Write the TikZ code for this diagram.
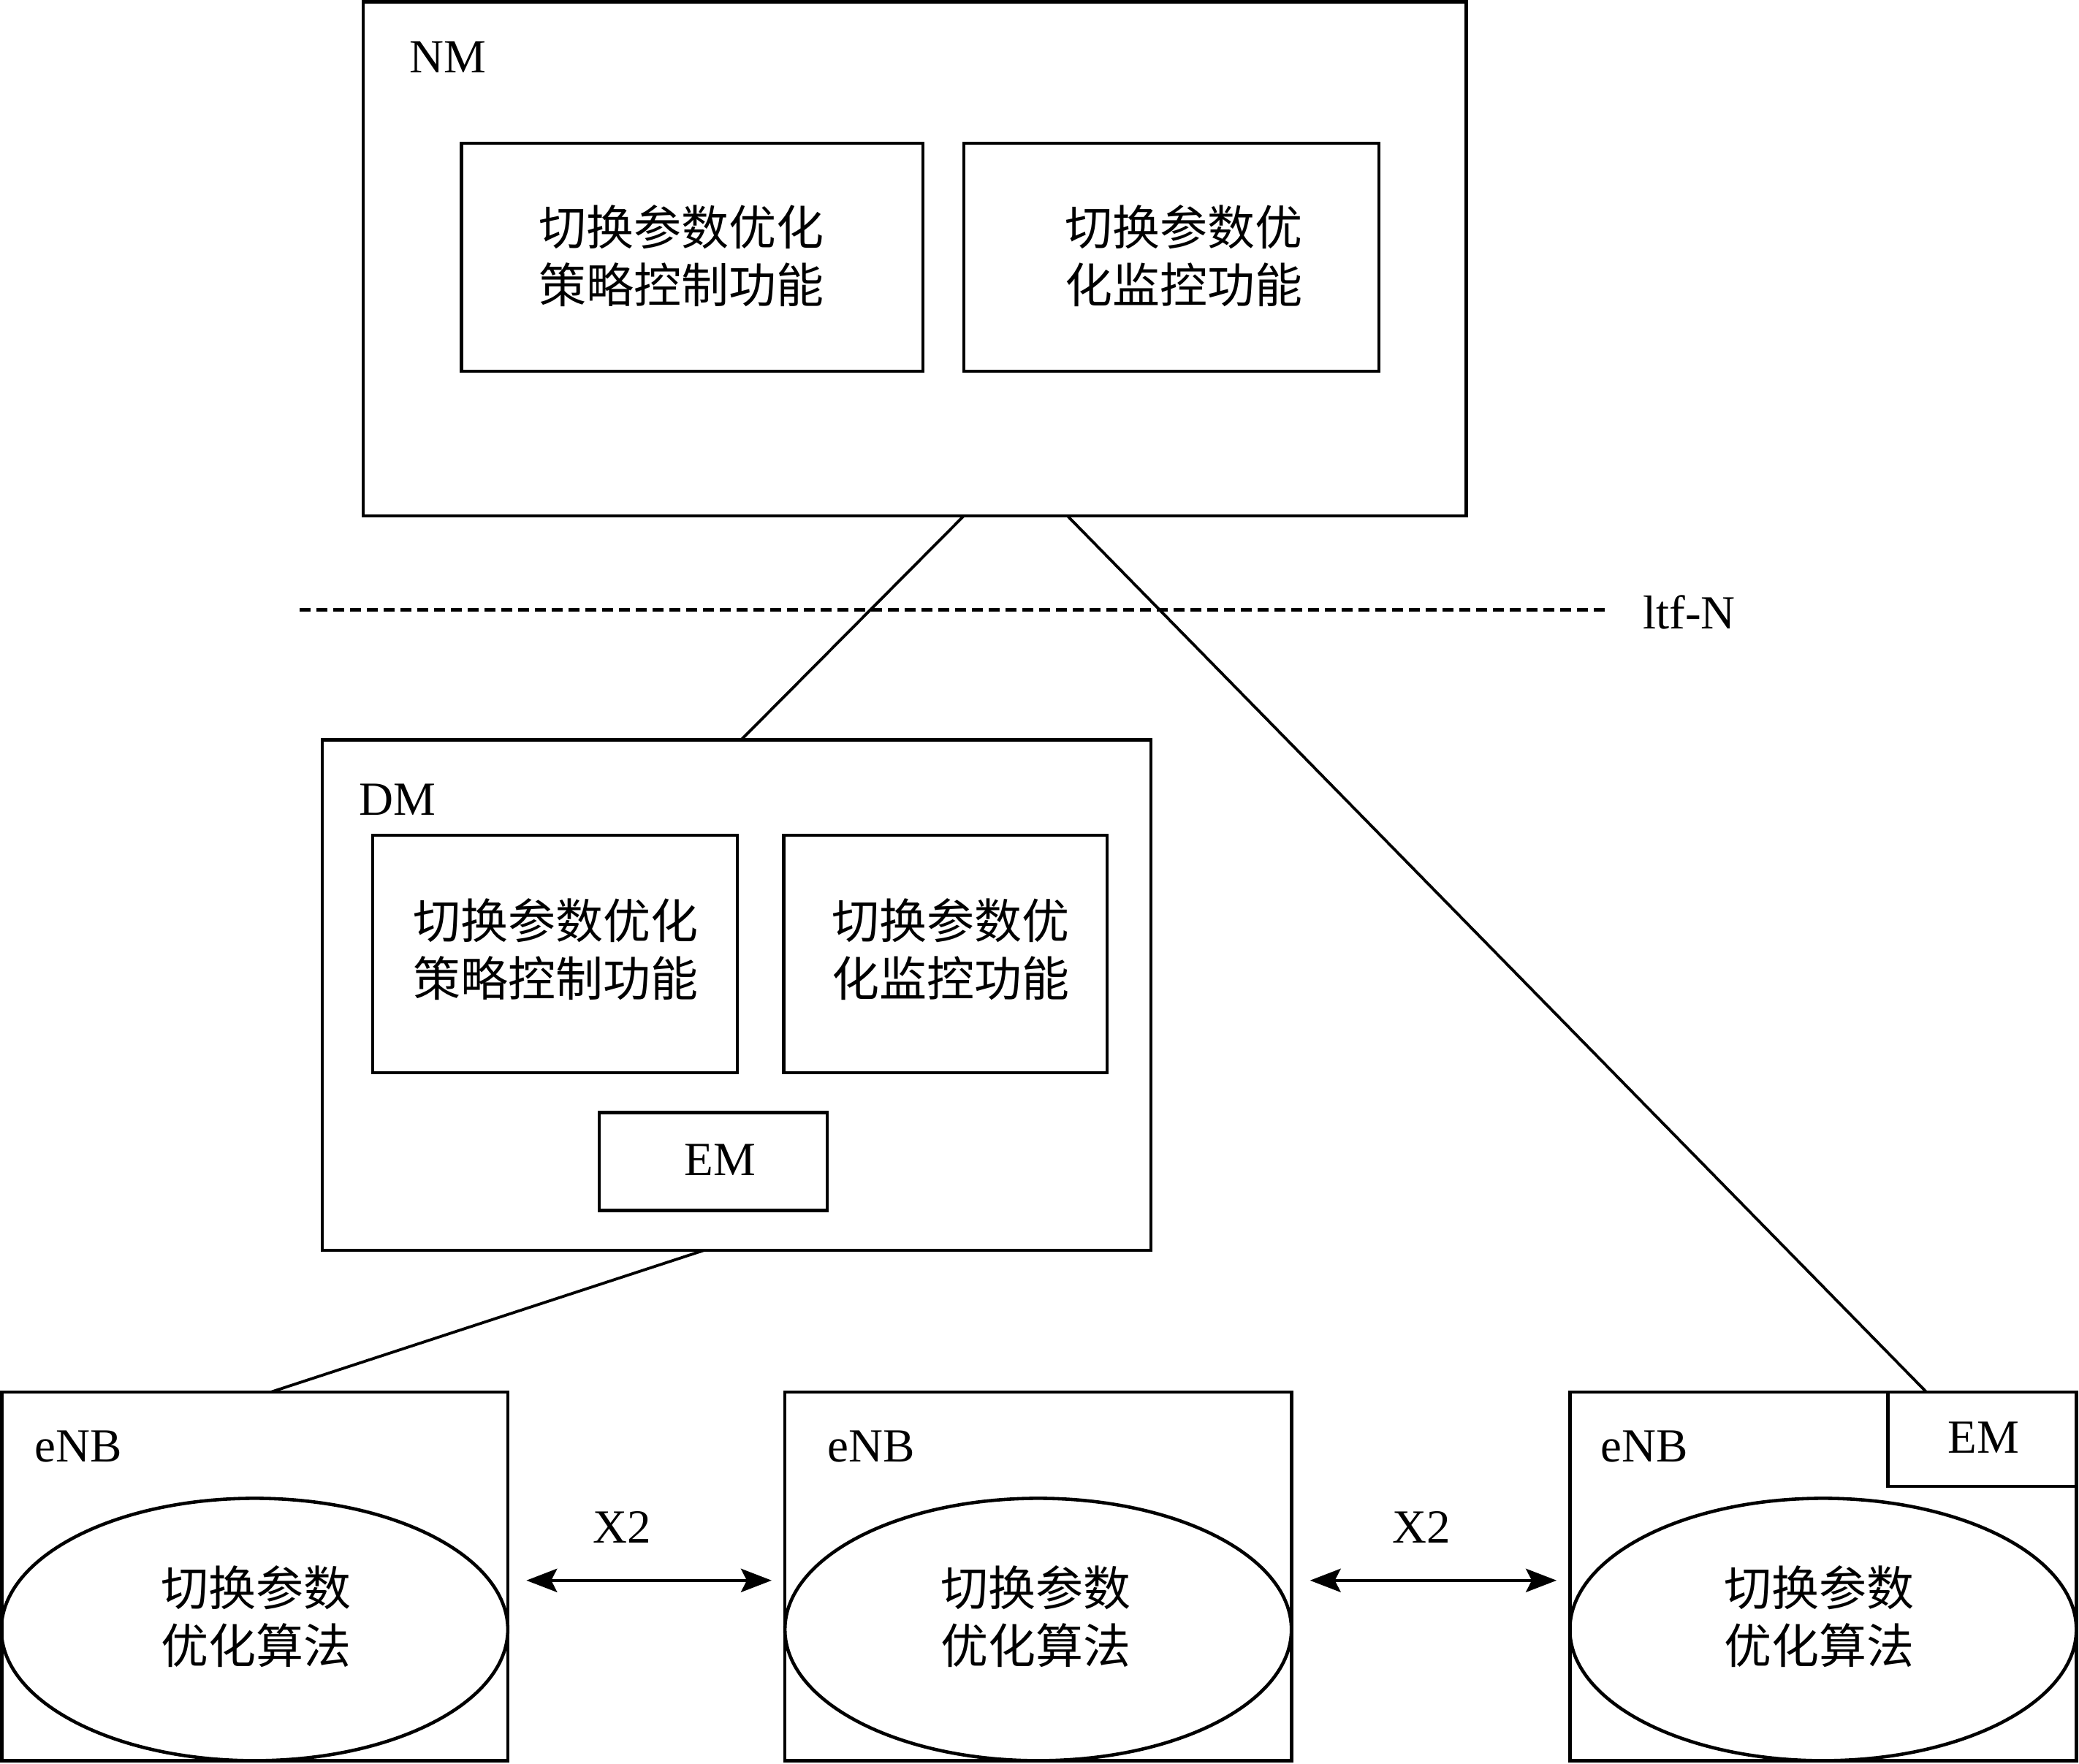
\documentclass[tikz,border=0pt]{standalone}
\usepackage{fontspec}
\setmainfont{Liberation Serif}
\newfontfamily\cjk{Noto Sans CJK SC}
\usetikzlibrary{arrows.meta,shapes.geometric,fit,calc}
\begin{document}
\begin{tikzpicture}[x=0.018144cm,y=-0.018144cm,
  box/.style={draw, line width=1.3pt, inner sep=0pt, outer sep=0pt},
  oval/.style={draw, ellipse, line width=1.3pt, inner sep=0pt, outer sep=0pt,
    minimum width=6.93cm, minimum height=3.59cm},
  lbl/.style={font=\fontsize{18.5pt}{22pt}\selectfont, inner sep=0pt},
  cjktext/.style={font=\cjk\fontsize{18.5pt}{22.4pt}\selectfont, align=center, inner sep=0pt},
  conn/.style={line width=1.1pt},
  x2arrow/.style={line width=1.2pt,
    {Stealth[length=0.42cm,width=0.32cm,inset=0.08cm]}-{Stealth[length=0.42cm,width=0.32cm,inset=0.08cm]}},
  ifline/.style={line width=1.3pt, dash pattern=on 0.15cm off 0.08cm}]
\useasboundingbox (0,0) rectangle (1568,1330);

% NM
\node[box, fit={(274,1.5) (1106,389)}] (nm) {};
\node[lbl] (nmlabel) at (338,43) {NM};
\node[box, fit={(348,108) (696,280)}] (nmp) {};
\node[cjktext] (nmpt) at (514,193) {切换参数优化\\策略控制功能};
\node[box, fit={(727,108) (1040,280)}] (nmm) {};
\node[cjktext] (nmmt) at (893,193) {切换参数优\\化监控功能};

% Itf-N
\coordinate (ifa) at (226,460);
\coordinate (ifb) at (1212,460);
\draw[ifline] (ifa) -- (ifb);
\node[lbl] (ifn) at (1274,462) {ltf-N};

% DM
\node[box, fit={(243,558) (868,943)}] (dm) {};
\node[lbl] (dmlabel) at (300,603) {DM};
\node[box, fit={(281,630) (556,809)}] (dmp) {};
\node[cjktext] (dmpt) at (419,716) {切换参数优化\\策略控制功能};
\node[box, fit={(591,630) (835,809)}] (dmm) {};
\node[cjktext] (dmmt) at (717,716) {切换参数优\\化监控功能};
\node[box, fit={(452,839) (624,913)}] (em) {};
\node[lbl] (emlabel) at (543,875) {EM};

% eNBs
\node[box, fit={(1.5,1050) (383,1328)}] (enb1) {};
\node[lbl] (enb1label) at (59,1091) {eNB};
\node[oval] (alg1) at (192,1229) {};
\node[cjktext] (alg1t) at (193,1219) {切换参数\\优化算法};

\node[box, fit={(592,1050) (974,1328)}] (enb2) {};
\node[lbl] (enb2label) at (657,1091) {eNB};
\node[oval] (alg2) at (783,1229) {};
\node[cjktext] (alg2t) at (781,1219) {切换参数\\优化算法};

\node[box, fit={(1184,1050) (1566,1328)}] (enb3) {};
\node[lbl] (enb3label) at (1240,1091) {eNB};
\node[box, fit={(1424,1050) (1566,1121)}] (em3) {};
\node[lbl] (em3label) at (1496,1084) {EM};
\node[oval] (alg3) at (1375,1229) {};
\node[cjktext] (alg3t) at (1372,1219) {切换参数\\优化算法};

% connectors
\draw[conn] (727,0 |- nm.south) -- (559,0 |- dm.north);
\draw[conn] (805,0 |- nm.south) -- (1453,0 |- em3.north);
\draw[conn] (531,0 |- dm.south) -- (204,0 |- enb1.north);

% X2
\node[lbl] (x2a) at (469,1152) {X2};
\node[lbl] (x2b) at (1072,1152) {X2};
\draw[x2arrow] ($(enb1.east)+(14,3)$) -- ($(enb2.west)+(-10,3)$);
\draw[x2arrow] ($(enb2.east)+(14,3)$) -- ($(enb3.west)+(-10,3)$);
\end{tikzpicture}
\end{document}
